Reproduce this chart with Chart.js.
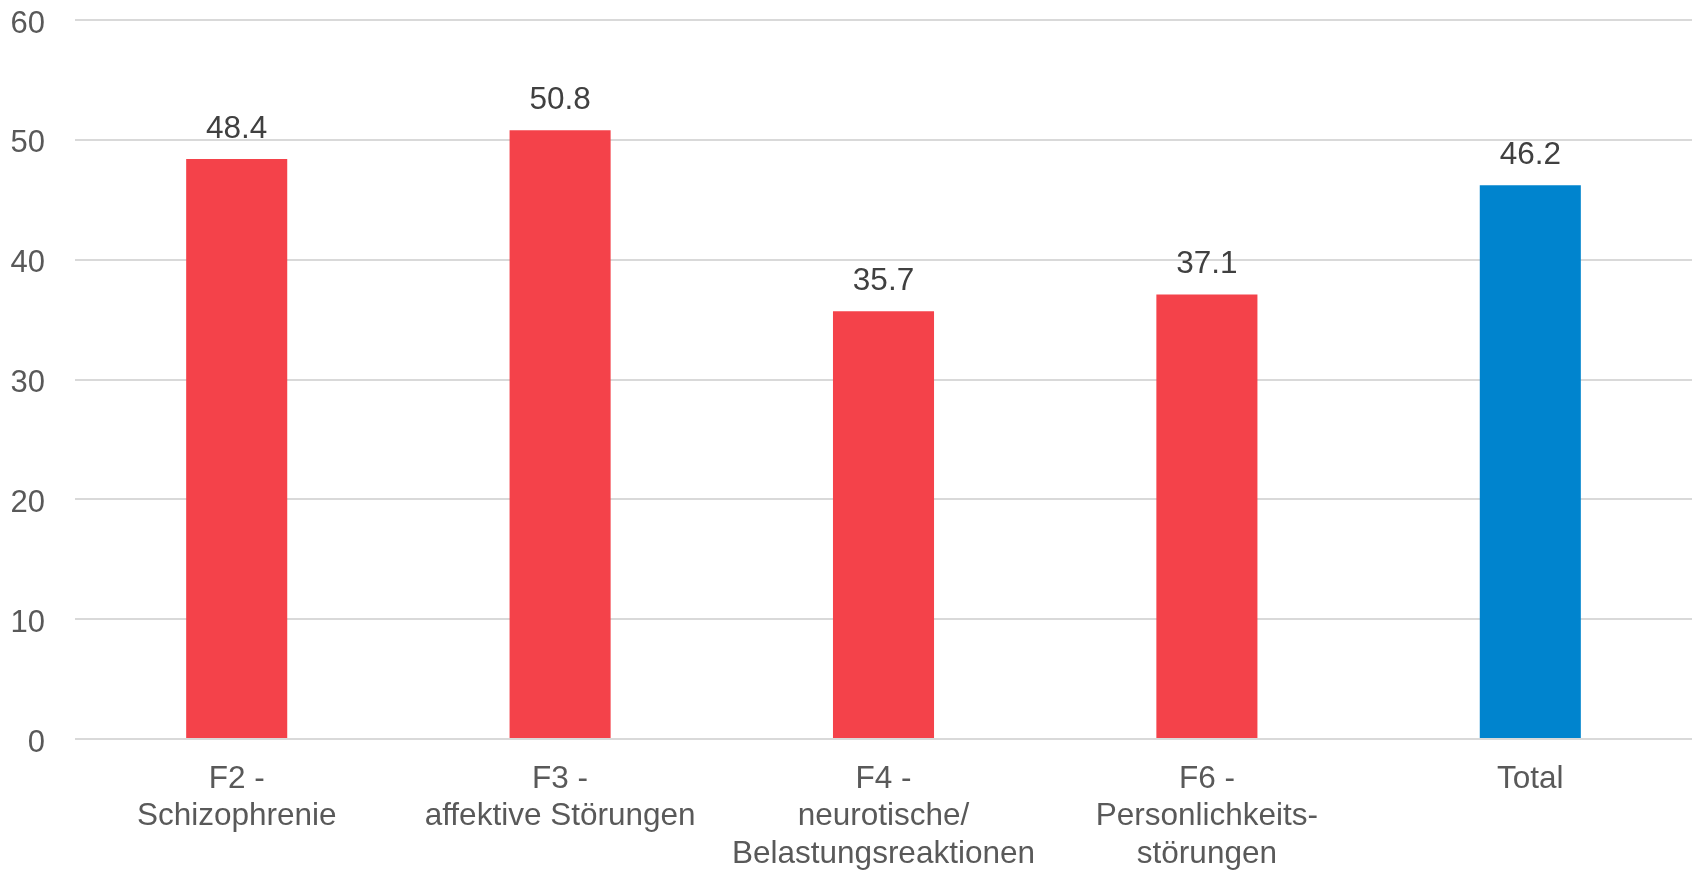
<!DOCTYPE html>
<html>
<head>
<meta charset="utf-8">
<script src="https://cdn.jsdelivr.net/npm/chart.js@4.4.1/dist/chart.umd.min.js"></script>
<style>
    html, body { margin: 0; padding: 0; background: #ffffff; }
    #wrap { width: 1692px; height: 871px; position: relative; }
</style>
</head>
<body>
<div id="wrap"><canvas id="chart"></canvas></div>
<script>
/* Diagnosis groups vs. total */

const categories = [
    ['F2 -', 'Schizophrenie'],
    ['F3 -', 'affektive Störungen'],
    ['F4 -', 'neurotische/', 'Belastungsreaktionen'],
    ['F6 -', 'Personlichkeits-', 'störungen'],
    'Total'
];
const values = [48.4, 50.8, 35.7, 37.1, 46.2];
const barColors = ['#f4424a', '#f4424a', '#f4424a', '#f4424a', '#0084ce'];
const yTicks = [0, 10, 20, 30, 40, 50, 60];

const FONT = '"Liberation Sans", Arial, sans-serif';

// Value labels above each bar
const valueLabels = {
    id: 'valueLabels',
    afterDatasetsDraw(chart) {
        const { ctx } = chart;
        const meta = chart.getDatasetMeta(0);
        ctx.save();
        ctx.font = '31.5px ' + FONT;
        ctx.fillStyle = '#404040';
        ctx.textAlign = 'center';
        ctx.textBaseline = 'alphabetic';
        meta.data.forEach((bar, i) => {
            ctx.fillText(values[i].toFixed(1), bar.x, bar.y - 21);
        });
        ctx.restore();
    }
};

const ctx = document.getElementById('chart').getContext('2d');
new Chart(ctx, {
    type: 'bar',
    data: {
        labels: categories,
        datasets: [{
            data: values,
            backgroundColor: barColors,
            borderWidth: 0,
            categoryPercentage: 0.3125,
            barPercentage: 1
        }]
    },
    options: {
        responsive: true,
        maintainAspectRatio: false,
        animation: false,
        layout: { padding: { top: 20, right: 0, left: 0, bottom: 0 } },
        scales: {
            x: {
                grid: { display: false, drawTicks: false },
                border: { display: false },
                ticks: {
                    color: '#595959',
                    font: { family: FONT, size: 31.5, lineHeight: 1.2 },
                    padding: 21,
                    maxRotation: 0,
                    autoSkip: false
                },
                afterFit(scale) {
                    scale.height = 132;
                    scale.paddingLeft = 0;
                    scale.paddingRight = 0;
                }
            },
            y: {
                min: 0,
                max: 60,
                afterBuildTicks(scale) {
                    scale.ticks = yTicks.map(v => ({ value: v }));
                },
                grid: { color: '#d9d9d9', lineWidth: 2, drawTicks: false },
                border: { display: false },
                ticks: {
                    color: '#595959',
                    font: { family: FONT, size: 31 },
                    padding: 30,
                    labelOffset: 4
                },
                afterFit(scale) {
                    scale.width = 75;
                    scale.paddingTop = 0;
                    scale.paddingBottom = 0;
                }
            }
        },
        plugins: {
            legend: { display: false },
            tooltip: { enabled: false }
        }
    },
    plugins: [valueLabels]
});
</script>
</body>
</html>
